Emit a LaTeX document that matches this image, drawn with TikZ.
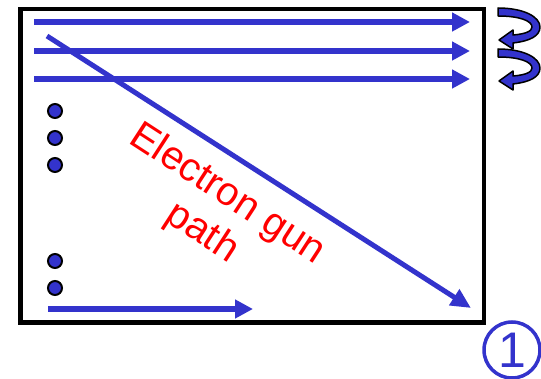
\documentclass[tikz,border=0pt]{standalone}
\usepackage{fontspec}
\setmainfont{Liberation Sans}
\usetikzlibrary{arrows.meta}
\definecolor{beamblue}{RGB}{51,51,204}
\definecolor{labelred}{RGB}{255,0,0}
\tikzset{
  scanline/.style={draw=beamblue, line width=6pt, -{Triangle[length=18pt,width=18pt]}},
  gunline/.style={draw=beamblue, line width=5pt, -{Triangle[length=20pt,width=18pt]}},
  dotmark/.style={circle, fill=beamblue, draw=black, line width=2pt, minimum size=14pt, inner sep=0pt},
  screenframe/.style={draw=black, line width=4.5pt},
  curl/.style={fill=beamblue, draw=black, line width=1.5pt, line join=round},
  redlabel/.style={text=labelred, font=\fontsize{40}{46}\selectfont, inner sep=0pt, rotate=-33, align=center},
}
\begin{document}
\begin{tikzpicture}[x=1pt,y=-1pt]
\useasboundingbox (0,0) rectangle (541,379);
\fill[white] (0,0) rectangle (541,379);

% screen frame
\node[screenframe, minimum width=463.5pt, minimum height=313.5pt, inner sep=0pt] (frame) at (252,165.75) {};

% scan lines
\coordinate (s1a) at (34,22);  \coordinate (s1b) at (470,22);
\coordinate (s2a) at (34,51);  \coordinate (s2b) at (470,51);
\coordinate (s3a) at (34,79);  \coordinate (s3b) at (470,79);
\draw[scanline] (s1a) -- (s1b);
\draw[scanline] (s2a) -- (s2b);
\draw[scanline] (s3a) -- (s3b);

% last scan line
\coordinate (s4a) at (48,309); \coordinate (s4b) at (253,309);
\draw[scanline] (s4a) -- (s4b);

% electron gun path
\coordinate (ga) at (47,36); \coordinate (gb) at (471,308);
\draw[gunline] (ga) -- (gb);

% dots
\node[dotmark] (d1) at (55,111) {};
\node[dotmark] (d2) at (55,138) {};
\node[dotmark] (d3) at (55,165) {};
\node[dotmark] (d4) at (55,261) {};
\node[dotmark] (d5) at (55,288) {};

% label
\node[redlabel] (lab) at (214.5,214) {Electron gun\\path};

% curled return arrows
\foreach \dy in {0,41}{
  \begin{scope}[yshift=-\dy pt]
  \path[curl] (498,8) .. controls (524,8) and (540,17) .. (540,27)
     .. controls (540,36) and (530,41) .. (513,43)
     -- (513,49) -- (499,40) -- (513,30) -- (513,35)
     .. controls (526,34) and (532,31) .. (532,27)
     .. controls (532,21) and (520,16) .. (498,16) -- cycle;
  \end{scope}
}

% circled 1
\node[circle, draw=beamblue, line width=3.5pt, minimum size=56pt, inner sep=0pt] (num) at (512,350) {};
\node[text=beamblue, font=\fontsize{50}{52}\selectfont, inner sep=0pt] (numtxt) at (num.center) {1};
\end{tikzpicture}
\end{document}
